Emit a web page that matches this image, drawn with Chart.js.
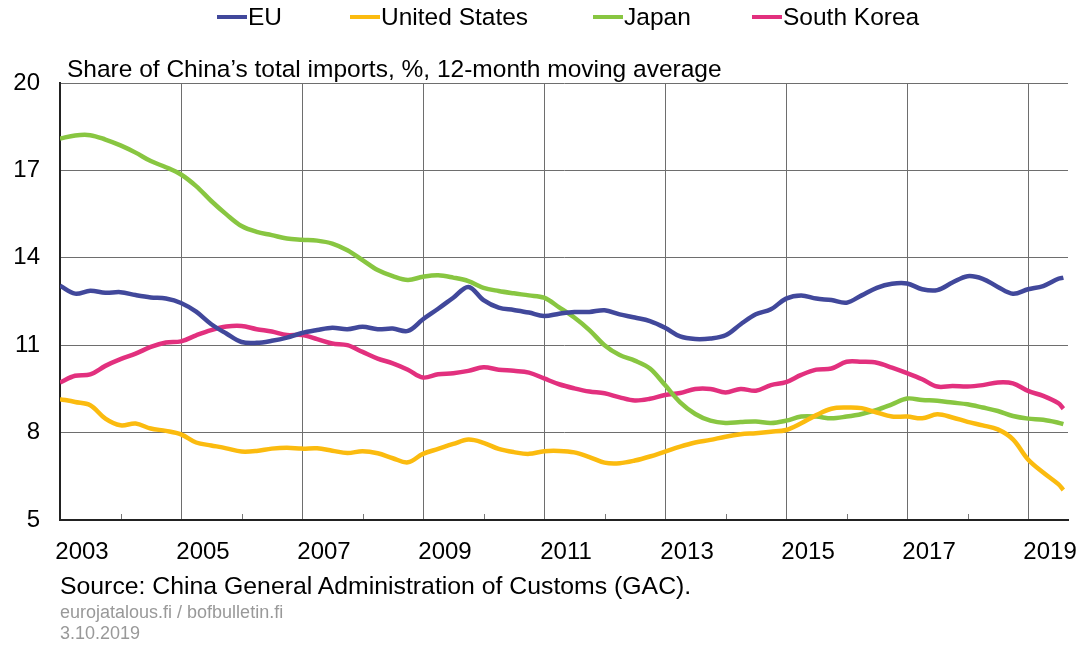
<!DOCTYPE html>
<html>
<head>
<meta charset="utf-8">
<script src="https://cdn.jsdelivr.net/npm/chart.js@4"></script>
<style>
  body { margin: 0; background: #fff; font-family: "Liberation Sans", Arial, sans-serif; }
  #wrap { position: relative; width: 1083px; height: 645px; overflow: hidden; }
  #chart { position: absolute; left: 0; top: 0; }
  .leg { position: absolute; top: 5px; font-size: 24.5px; line-height: 24.5px; color: #000; white-space: nowrap; }
  .leg .sw { display: inline-block; width: 30px; height: 4px; margin-right: 1px; vertical-align: middle; position: relative; top: -2px; }
  .txt { position: absolute; left: 60px; line-height: 1; white-space: nowrap; }
  #title { left: 67px; top: 57px; font-size: 24.5px; color: #000; }
  #source { top: 574px; font-size: 24.8px; color: #000; }
  #site { top: 603px; font-size: 18px; color: #999; }
  #date { top: 624px; font-size: 18px; color: #999; }
</style>
</head>
<body>
<div id="wrap">
  <canvas id="chart" width="1083" height="645"></canvas>
  <div id="legend"></div>
  <div class="txt" id="title">Share of China’s total imports, %, 12-month moving average</div>
  <div class="txt" id="source">Source: China General Administration of Customs (GAC).</div>
  <div class="txt" id="site">eurojatalous.fi / bofbulletin.fi</div>
  <div class="txt" id="date">3.10.2019</div>
</div>
<script>
// quarterly readings, Jan 2003 .. Jul 2019, plus the last month (Aug 2019)
const periods = [];
for (let y = 2003; y <= 2019; y++) {
    [1, 4, 7, 10].forEach(m => {
        if (y < 2019 || m <= 7) periods.push(y + '-' + String(m).padStart(2, '0'));
    });
}
periods.push('2019-08');

const euValues = [
    13.04, 12.77, 12.87, 12.80,
    12.82, 12.72, 12.64, 12.60,
    12.45, 12.15, 11.72, 11.40,
    11.11, 11.08, 11.15, 11.26,
    11.42, 11.52, 11.60, 11.55,
    11.63, 11.55, 11.57, 11.49,
    11.89, 12.25, 12.63, 13.00,
    12.55, 12.29, 12.21, 12.12,
    12.00, 12.08, 12.14, 12.14,
    12.20, 12.06, 11.95, 11.83,
    11.60, 11.30, 11.21, 11.23,
    11.34, 11.72, 12.06, 12.23,
    12.60, 12.71, 12.60, 12.55,
    12.46, 12.71, 12.97, 13.11,
    13.12, 12.92, 12.89, 13.15,
    13.37, 13.28, 13.00, 12.77,
    12.92, 13.03, 13.28, 13.32
];
const usValues = [
    9.15, 9.05, 8.94, 8.48,
    8.25, 8.31, 8.14, 8.06,
    7.94, 7.66, 7.56, 7.46,
    7.35, 7.37, 7.45, 7.48,
    7.45, 7.46, 7.38, 7.30,
    7.36, 7.29, 7.12, 6.98,
    7.27, 7.44, 7.61, 7.76,
    7.65, 7.44, 7.33, 7.27,
    7.36, 7.37, 7.32, 7.16,
    6.97, 6.95, 7.04, 7.18,
    7.35, 7.52, 7.66, 7.75,
    7.86, 7.94, 7.98, 8.03,
    8.09, 8.32, 8.60, 8.82,
    8.86, 8.84, 8.69, 8.55,
    8.55, 8.49, 8.63, 8.52,
    8.37, 8.25, 8.11, 7.77,
    7.08, 6.63, 6.23, 6.03
];
const japanValues = [
    18.09, 18.20, 18.21, 18.06,
    17.86, 17.61, 17.32, 17.11,
    16.86, 16.46, 15.95, 15.49,
    15.09, 14.89, 14.78, 14.66,
    14.62, 14.59, 14.49, 14.26,
    13.92, 13.58, 13.37, 13.24,
    13.35, 13.40, 13.32, 13.20,
    12.97, 12.86, 12.78, 12.71,
    12.63, 12.30, 11.95, 11.52,
    11.00, 10.66, 10.47, 10.20,
    9.63, 9.04, 8.64, 8.41,
    8.33, 8.36, 8.38, 8.33,
    8.41, 8.55, 8.55, 8.49,
    8.55, 8.64, 8.78, 8.97,
    9.17, 9.12, 9.09, 9.03,
    8.97, 8.86, 8.74, 8.57,
    8.48, 8.44, 8.34, 8.29
];
const koreaValues = [
    9.72, 9.95, 10.00, 10.29,
    10.52, 10.71, 10.94, 11.09,
    11.13, 11.34, 11.52, 11.64,
    11.66, 11.55, 11.47, 11.35,
    11.35, 11.21, 11.06, 11.00,
    10.77, 10.54, 10.38, 10.16,
    9.89, 10.00, 10.04, 10.12,
    10.24, 10.16, 10.12, 10.06,
    9.86, 9.66, 9.52, 9.41,
    9.35, 9.21, 9.10, 9.16,
    9.29, 9.36, 9.50, 9.50,
    9.38, 9.50, 9.44, 9.63,
    9.73, 9.98, 10.16, 10.20,
    10.43, 10.43, 10.40, 10.23,
    10.04, 9.83, 9.58, 9.60,
    9.58, 9.63, 9.72, 9.69,
    9.43, 9.26, 9.01, 8.82
];

const yearTicks = [2003, 2004, 2005, 2006, 2007, 2008, 2009, 2010, 2011,
                   2012, 2013, 2014, 2015, 2016, 2017, 2018, 2019];
const yTicks = [5, 8, 11, 14, 17, 20];

const seriesNames = ['EU', 'United States', 'Japan', 'South Korea'];
const seriesColors = ['#41489b', '#fbbb0f', '#88c641', '#e2307e'];
const seriesValues = [euValues, usValues, japanValues, koreaValues];
const legendLeft = [217, 350, 593, 752];

function toYear(p) {
    const [y, m] = p.split('-').map(Number);
    return y + (m - 1) / 12;
}

// legend
const legend = document.getElementById('legend');
seriesNames.forEach((name, i) => {
    const div = document.createElement('div');
    div.className = 'leg';
    div.style.left = legendLeft[i] + 'px';
    div.innerHTML = `<span class="sw" style="background:${seriesColors[i]}"></span>${name}`;
    legend.appendChild(div);
});

// small inner tick marks for the even years on the bottom axis
const innerTicks = {
    id: 'innerTicks',
    afterDraw(chart) {
        const ctx = chart.ctx;
        const xs = chart.scales.x;
        const bottom = chart.chartArea.bottom;
        ctx.save();
        ctx.strokeStyle = '#777';
        ctx.lineWidth = 1;
        yearTicks.filter(y => y % 2 === 0).forEach(y => {
            const px = Math.round(xs.getPixelForValue(y)) + 0.5;
            ctx.beginPath();
            ctx.moveTo(px, bottom - 1);
            ctx.lineTo(px, bottom - 6);
            ctx.stroke();
        });
        ctx.restore();
    }
};

const gridColor = '#6e6e6e';
const tickFont = { family: '"Liberation Sans", Arial, sans-serif', size: 24 };

new Chart(document.getElementById('chart'), {
    type: 'line',
    data: {
        datasets: seriesNames.map((name, i) => ({
            label: name,
            data: periods.map((p, j) => ({ x: toYear(p), y: seriesValues[i][j] })),
            borderColor: seriesColors[i],
            backgroundColor: seriesColors[i],
            borderWidth: 4.5,
            pointRadius: 0,
            tension: 0.35,
            fill: false
        }))
    },
    options: {
        responsive: false,
        animation: false,
        layout: { padding: { left: 0, right: 15, top: 83, bottom: 0 } },
        plugins: {
            legend: { display: false },
            tooltip: { enabled: false }
        },
        scales: {
            x: {
                type: 'linear',
                min: 2003,
                max: 2019.66,
                afterBuildTicks: axis => { axis.ticks = yearTicks.map(v => ({ value: v })); },
                afterFit: scale => { scale.height = 125; },
                grid: {
                    drawTicks: false,
                    color: c => (c.tick && c.tick.value % 2 === 1 && c.tick.value > 2003) ? gridColor : 'rgba(0,0,0,0)'
                },
                border: { display: true, color: '#222', width: 2 },
                ticks: {
                    color: '#000',
                    font: tickFont,
                    padding: 18,
                    labelOffset: 22,
                    maxRotation: 0,
                    autoSkip: false,
                    callback: v => (v % 2 === 1 ? String(v) : '')
                }
            },
            y: {
                min: 5,
                max: 20,
                afterBuildTicks: axis => { axis.ticks = yTicks.map(v => ({ value: v })); },
                afterFit: scale => { scale.width = 60; },
                grid: {
                    drawTicks: false,
                    color: c => (c.tick && c.tick.value === 5) ? 'rgba(0,0,0,0)' : gridColor
                },
                border: { display: true, color: '#222', width: 2 },
                ticks: {
                    color: '#000',
                    font: tickFont,
                    padding: 20
                }
            }
        }
    },
    plugins: [innerTicks]
});
</script>
</body>
</html>
